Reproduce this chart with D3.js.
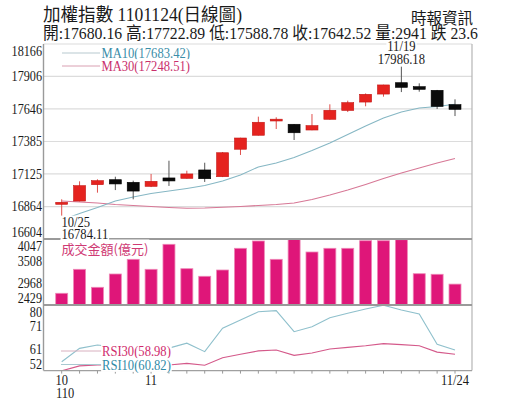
<!DOCTYPE html>
<html><head><meta charset="utf-8">
<script src="https://cdn.jsdelivr.net/npm/d3@7"></script>
<style>body{margin:0;background:#fff}svg{display:block}</style>
</head><body><svg id="c" width="515" height="413"></svg>
<script>
// ---------- data ----------
const dates = ["10/25","10/26","10/27","10/28","10/29","11/01","11/02","11/03","11/04","11/05","11/08","11/09","11/10","11/11","11/12","11/15","11/16","11/17","11/18","11/19","11/22","11/23","11/24"];
const openP  = [16882,16908,17039,17079,17058,17026,17093,17090,17157,17103,17323,17435,17553,17523,17477,17563,17634,17701,17765,17856,17824,17795,17680.16];
const highP  = [16922,17066,17082,17103,17071,17125,17231,17151,17215,17301,17415,17584,17579,17525,17605,17683,17712,17770,17840,17986.18,17851,17798,17722.89];
const lowP   = [16784.11,16905,16975,16996,16922,17020,17029,17088,17061,17100,17277,17433,17485,17397,17475,17560,17621,17667,17744,17781,17784,17645,17588.78];
const closeP = [16898,17031,17071,17045,16988,17066,17069,17125,17087,17295,17413,17539,17560,17455,17512,17635,17696,17763,17838,17819,17803,17666.12,17642.52];
const volume = [2716,3304,2863,3189,3549,3304,3917,3319,3133,3287,3819,3998,3549,4047,3728,3819,3819,4005,4005,4030,3196,3182,2941];
const ma10 = [16756,16808,16856,16908,16940,16968,16988,17009,17033,17069,17117,17181,17213,17257,17313,17373,17441,17509,17573,17621,17653,17665,17683.42];
const ma30 = [16908,16900,16892,16880,16872,16864,16856,16850,16852,16858,16864,16872,16880,16892,16920,16956,16996,17041,17089,17133,17173,17213,17248.51];
const rsi10 = [55.8,61.5,62.9,62.1,59.9,61.6,61.6,63.7,60.1,70.1,73.6,77.1,77.6,68.6,70.7,74.6,76.5,78.3,79.9,77.9,76.2,63.2,60.82];
const rsi30 = [51.9,54.0,54.4,54.4,54.2,54.4,54.4,55.1,54.3,57.5,59.0,60.4,60.8,58.5,59.5,61.2,61.9,62.6,63.5,63.1,62.6,59.9,58.98];
const priceTicks = [18166,17906,17646,17385,17125,16864,16604];
const volTicks = [4047,3508,2968,2429];
const rsiTicks = [80,71,61,52];
const xLabels = ["10","11","11/24"];
const xLabelDates = ["10/25","11/01","11/24"];
const yearLabel = "110";
const title = "加權指數 1101124(日線圖)";
const source = "時報資訊";
const infoLine = "開:17680.16 高:17722.89 低:17588.78 收:17642.52 量:2941 跌 23.6";
const ma10Label = "MA10(17683.42)", ma30Label = "MA30(17248.51)";
const rsi30Label = "RSI30(58.98)", rsi10Label = "RSI10(60.82)";
const volLabel = "成交金額(億元)";
const lowNote = ["10/25","16784.11"], highNote = ["11/19","17986.18"];

// ---------- layout ----------
const SERIF = "'Liberation Serif','Times New Roman','Noto Sans CJK TC',serif";
const CJK = "'Noto Sans CJK TC','Liberation Serif',sans-serif";
const L = 43.5, R = 472;
const pTop = 44, pBot = 239, vTop = 239, vBot = 305, rTop = 305, rBot = 370.6;

const svg = d3.select("#c");
const x = d3.scalePoint().domain(dates).range([61.7, 455]);
const yP = d3.scaleLinear().domain([16604, 18166]).range([pBot, pTop]);
const yV = d3.scaleLinear().domain([2429, 4047]).range([vBot, vTop]);
const yR = d3.scaleLinear().domain([52, 80]).range([rBot, rTop]);
const bw = x.step() * 0.67;

function T(g, px, py, s, o = {}) {
  const size = o.size || 14, sx = o.sx == null ? 0.88 : o.sx;
  const t = g.append("text")
    .attr("transform", `translate(${px},${py}) scale(${sx},1)`)
    .attr("dominant-baseline", "central")
    .attr("text-anchor", o.anchor || "start")
    .attr("font-family", o.family || SERIF)
    .attr("font-size", size)
    .attr("fill", o.fill || "#1a1a1a")
    .text(s);
  if (o.bg) {
    const b = t.node().getBBox();
    g.insert("rect", () => t.node())
      .attr("transform", `translate(${px},${py}) scale(${sx},1)`)
      .attr("x", b.x - 1).attr("y", b.y + 1).attr("width", b.width + 2).attr("height", b.height - 2)
      .attr("fill", "#fff");
  }
  return t;
}

// clip paths
const defs = svg.append("defs");
defs.append("clipPath").attr("id", "cpP").append("rect").attr("x", L).attr("y", pTop).attr("width", R - L).attr("height", pBot - pTop);
defs.append("clipPath").attr("id", "cpV").append("rect").attr("x", L).attr("y", vTop).attr("width", R - L).attr("height", vBot - vTop);
defs.append("clipPath").attr("id", "cpR").append("rect").attr("x", L).attr("y", rTop).attr("width", R - L).attr("height", rBot - rTop);

// ---------- grid (price) ----------
svg.append("g").selectAll("line").data(priceTicks).join("line")
  .attr("x1", L).attr("x2", R).attr("y1", d => yP(d)).attr("y2", d => yP(d))
  .attr("stroke", "#dcdcdc").attr("stroke-width", 1.2);

// ---------- MA lines ----------
const gP = svg.append("g").attr("clip-path", "url(#cpP)");
const lineP = arr => d3.line().x((d, i) => x(dates[i])).y(d => yP(d))(arr);
gP.append("path").attr("d", lineP(ma30)).attr("fill", "none").attr("stroke", "#d77896").attr("stroke-width", 1.1);
gP.append("path").attr("d", lineP(ma10)).attr("fill", "none").attr("stroke", "#86b7c4").attr("stroke-width", 1.1);

// ---------- candles ----------
const candles = gP.selectAll("g.c").data(dates).join("g");
candles.each(function (d, i) {
  const g = d3.select(this);
  const up = closeP[i] >= openP[i];
  const col = up ? "#e5231f" : "#0a0a0a";
  const cx = x(d);
  g.append("line").attr("x1", cx).attr("x2", cx)
    .attr("y1", yP(highP[i])).attr("y2", yP(lowP[i]))
    .attr("stroke", up ? "#e0504c" : "#555").attr("stroke-width", 1);
  const yTop = yP(Math.max(openP[i], closeP[i])), yB = yP(Math.min(openP[i], closeP[i]));
  const h = Math.max(yB - yTop, 1.8);
  g.append("rect").attr("x", cx - bw / 2).attr("y", yTop - (h - (yB - yTop)) / 2)
    .attr("width", bw).attr("height", h)
    .attr("fill", col).attr("stroke", up ? "#c41714" : "#000").attr("stroke-width", 0.6);
});

// ---------- volume ----------
svg.append("g").attr("clip-path", "url(#cpV)").selectAll("rect").data(volume).join("rect")
  .attr("x", (d, i) => x(dates[i]) - bw / 2)
  .attr("y", d => yV(d)).attr("width", bw).attr("height", d => vBot - yV(d))
  .attr("fill", "#df1679").attr("stroke", "#ee86b6").attr("stroke-width", 0.8);

// ---------- RSI ----------
const gR = svg.append("g").attr("clip-path", "url(#cpR)");
const lineR = arr => d3.line().x((d, i) => x(dates[i])).y(d => yR(d))(arr);
gR.append("path").attr("d", lineR(rsi10)).attr("fill", "none").attr("stroke", "#8fc0cc").attr("stroke-width", 1.1);
gR.append("path").attr("d", lineR(rsi30)).attr("fill", "none").attr("stroke", "#d4598a").attr("stroke-width", 1.1);

// ---------- frame ----------
svg.append("line").attr("x1", L).attr("x2", L).attr("y1", pTop).attr("y2", rBot).attr("stroke", "#9a9a9a").attr("stroke-width", 1.4);
svg.append("line").attr("x1", R).attr("x2", R).attr("y1", pTop).attr("y2", rBot).attr("stroke", "#b5b5b5").attr("stroke-width", 1.2);
[pBot, vBot].forEach(yy => svg.append("line").attr("x1", L).attr("x2", R).attr("y1", yy).attr("y2", yy).attr("stroke", "#9a9a9a").attr("stroke-width", 2));
svg.append("line").attr("x1", L).attr("x2", R).attr("y1", rBot).attr("y2", rBot).attr("stroke", "#a0a0a0").attr("stroke-width", 1.4);
// x ticks
svg.append("g").selectAll("line").data(dates).join("line")
  .attr("x1", d => x(d)).attr("x2", d => x(d)).attr("y1", rBot).attr("y2", rBot + 3)
  .attr("stroke", "#999").attr("stroke-width", 1);

// ---------- y labels ----------
const gA = svg.append("g");
function yLabels(ticks, sc, top, bot) {
  ticks.forEach(v => {
    let yy = sc(v);
    if (Math.abs(yy - top) < 1) yy = top + 7;
    else if (Math.abs(yy - bot) < 1) yy = bot - 6.5;
    T(gA, 42, yy, String(v), { anchor: "end", size: 14.5, sx: 0.84 });
  });
}
yLabels(priceTicks, yP, pTop, pBot);
yLabels(volTicks, yV, vTop, vBot);
yLabels(rsiTicks, yR, rTop, rBot);

// ---------- x labels ----------
xLabels.forEach((s, k) => T(gA, x(xLabelDates[k]), 380, s, { anchor: "middle", size: 14.5, sx: 0.86 }));
T(gA, 56, 393.5, yearLabel, { size: 14.5, sx: 0.86 });

// ---------- legends ----------
const gL = svg.append("g");
gL.append("line").attr("x1", 62).attr("x2", 100).attr("y1", 53).attr("y2", 53).attr("stroke", "#b7c9cf").attr("stroke-width", 1);
gL.append("line").attr("x1", 62).attr("x2", 100).attr("y1", 66).attr("y2", 66).attr("stroke", "#d9a0b2").attr("stroke-width", 1);
T(gL, 101.5, 53.3, ma10Label, { fill: "#3a8da8", size: 14, sx: 0.9, bg: true });
T(gL, 101.5, 66, ma30Label, { fill: "#c92f6b", size: 14, sx: 0.9, bg: true });

T(gL, 61.5, 248, volLabel, { fill: "#cf3a74", family: CJK, size: 13, sx: 1, bg: true });

gL.append("line").attr("x1", 61).attr("x2", 102).attr("y1", 351).attr("y2", 351).attr("stroke", "#d8b0bf").attr("stroke-width", 1);
gL.append("line").attr("x1", 61).attr("x2", 102).attr("y1", 364.5).attr("y2", 364.5).attr("stroke", "#a9c9d1").attr("stroke-width", 1);
T(gL, 102, 351, rsi30Label, { fill: "#d02a6c", size: 14, sx: 0.9, bg: true });
T(gL, 102, 365, rsi10Label, { fill: "#2f8aa6", size: 14, sx: 0.9, bg: true });

// ---------- annotations ----------
T(gL, 61.5, 222.5, lowNote[0], { size: 14, sx: 0.9, bg: true });
T(gL, 61.5, 234.5, lowNote[1], { size: 14, sx: 0.9, bg: true });
T(gL, x("11/19"), 46.5, highNote[0], { anchor: "middle", size: 14, sx: 0.9, bg: true });
T(gL, x("11/19"), 59.5, highNote[1], { anchor: "middle", size: 14, sx: 0.9, bg: true });

// ---------- header ----------
const gH = svg.append("g").attr("font-family", SERIF).attr("fill", "#1a1a1a");
gH.append("text").attr("x", 43).attr("y", 20.5).attr("font-size", 18)
  .attr("font-family", "'Liberation Serif','Noto Sans CJK TC',serif")
  .attr("textLength", 199).attr("lengthAdjust", "spacingAndGlyphs").text(title);
gH.append("text").attr("x", 473).attr("y", 24).attr("font-size", 15.5).attr("text-anchor", "end")
  .attr("font-family", CJK).text(source);
gH.append("text").attr("x", 43).attr("y", 38.5).attr("font-size", 17)
  .attr("font-family", "'Liberation Serif','Noto Sans CJK TC',serif")
  .attr("textLength", 435).attr("lengthAdjust", "spacingAndGlyphs").text(infoLine);
</script></body></html>
